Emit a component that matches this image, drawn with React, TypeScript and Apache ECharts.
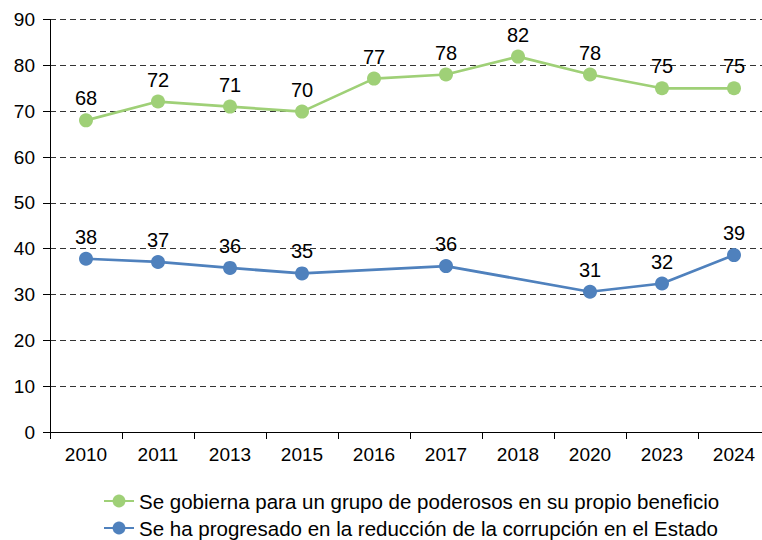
import React, { useEffect, useRef } from "react";
import * as echarts from "echarts";

const categories = ["2010", "2011", "2013", "2015", "2016", "2017", "2018", "2020", "2023", "2024"];
const greenName = "Se gobierna para un grupo de poderosos en su propio beneficio";
const blueName = "Se ha progresado en la reducción de la corrupción en el Estado";
const greenValues = [68.0, 72.1, 71.0, 69.9, 77.1, 78.0, 81.9, 78.0, 75.0, 75.0];
const blueValues: (number | null)[] = [37.8, 37.1, 35.8, 34.6, null, 36.2, null, 30.6, 32.4, 38.6];
const yTicks = { min: 0, max: 90, interval: 10 };

const FONT = "'Liberation Sans', Arial, sans-serif";

export default function App() {
  const ref = useRef<HTMLDivElement>(null);
  useEffect(() => {
    if (!ref.current) return;
    const chart = echarts.init(ref.current, null, { renderer: "svg" });
    const labelStyle = {
      show: true,
      position: "top" as const,
      color: "#000",
      fontSize: 20,
      fontFamily: FONT,
      formatter: (p: any) => Math.round(p.value).toString(),
    };
    chart.setOption({
      animation: false,
      textStyle: { fontFamily: FONT },
      grid: { left: 50, right: 0, top: 19.5, bottom: 108, containLabel: false },
      legend: {
        orient: "vertical",
        left: 98,
        top: 485,
        height: 80,
        itemWidth: 30,
        itemHeight: 16,
        itemGap: 5,
        textStyle: { fontSize: 20.5, color: "#000", fontFamily: FONT, lineHeight: 22 },
        data: [greenName, blueName],
      },
      xAxis: {
        type: "category",
        data: categories,
        boundaryGap: true,
        axisLine: { show: true, lineStyle: { color: "#000", width: 1 } },
        axisTick: { show: true, length: 7, lineStyle: { color: "#000" } },
        axisLabel: { color: "#000", fontSize: 19, fontFamily: FONT, margin: 13 },
        splitLine: { show: false },
      },
      yAxis: {
        type: "value",
        min: yTicks.min,
        max: yTicks.max,
        interval: yTicks.interval,
        axisLine: { show: true, lineStyle: { color: "#000", width: 1 } },
        axisTick: { show: true, length: 7, lineStyle: { color: "#000" } },
        axisLabel: { color: "#000", fontSize: 19, fontFamily: FONT, margin: 15 },
        splitLine: { show: true, lineStyle: { color: "#333", type: [6, 4], width: 1 } },
      },
      series: [
        {
          name: greenName,
          type: "line",
          data: greenValues,
          symbol: "circle",
          symbolSize: 14,
          itemStyle: { color: "#9fd077" },
          lineStyle: { color: "#9fd077", width: 2.75 },
          label: labelStyle,
        },
        {
          name: blueName,
          type: "line",
          data: blueValues,
          connectNulls: true,
          symbol: "circle",
          symbolSize: 14,
          itemStyle: { color: "#4f81bd" },
          lineStyle: { color: "#4f81bd", width: 2.75 },
          label: labelStyle,
        },
      ],
    });
    return () => chart.dispose();
  }, []);
  return (
    <div style={{ position: "absolute", left: 0, top: 0, width: 762, height: 540, overflow: "hidden" }}>
      <div ref={ref} style={{ width: 770, height: 540 }} />
    </div>
  );
}
